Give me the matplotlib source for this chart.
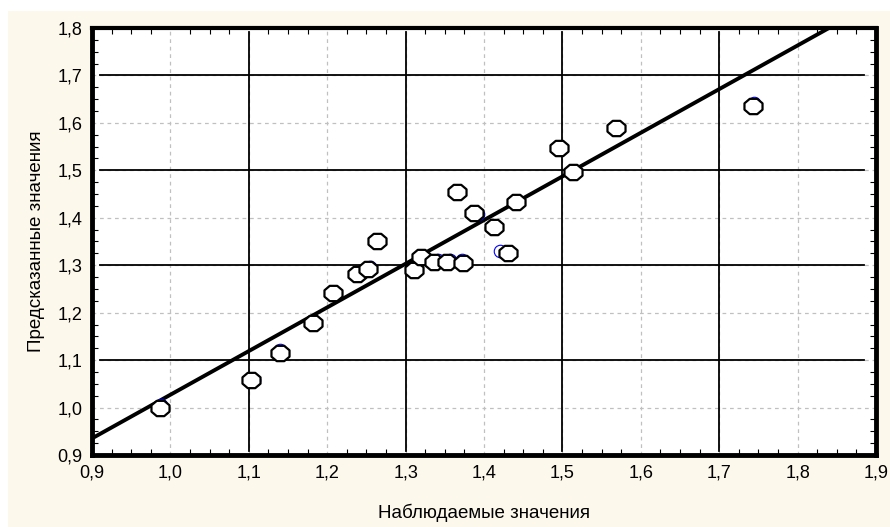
import numpy as np
import matplotlib.pyplot as plt
from matplotlib.patches import Rectangle
from matplotlib.path import Path
from matplotlib.ticker import MultipleLocator, FuncFormatter

plt.rcParams['font.family'] = ['Liberation Sans', 'DejaVu Sans']

# observed vs predicted (white octagons)
obs = [0.987, 1.103, 1.140, 1.182, 1.208, 1.238, 1.252, 1.263, 1.311, 1.320,
       1.336, 1.353, 1.373, 1.365, 1.387, 1.413, 1.430, 1.441, 1.496, 1.513,
       1.568, 1.743]
pred = [1.000, 1.058, 1.115, 1.178, 1.242, 1.282, 1.292, 1.352, 1.290, 1.318,
        1.306, 1.306, 1.304, 1.455, 1.411, 1.381, 1.326, 1.434, 1.548, 1.497,
        1.590, 1.636]

# blue marks peeking out behind some points
blue_x = [0.988, 1.107, 1.140, 1.254, 1.341, 1.357, 1.372, 1.392, 1.421, 1.744]
blue_y = [1.006, 1.058, 1.121, 1.297, 1.312, 1.312, 1.312, 1.408, 1.331, 1.641]

# regression line ends
line_x = [0.9, 1.84]
line_y = [0.935, 1.80]

# hand-drawn black guide lines
vlines = [1.1, 1.3, 1.5, 1.7]
hlines = [1.1, 1.3, 1.5, 1.7]

# slightly wide octagon marker
ang = np.deg2rad(22.5 + 45 * np.arange(8))
verts = np.column_stack([1.18 * np.cos(ang), np.sin(ang)])
octo = Path(np.vstack([verts, verts[:1]]), closed=True)

fig = plt.figure(figsize=(8.9, 5.27), dpi=100)
fig.patch.set_facecolor('white')
fig.patches.append(Rectangle((8 / 890, 0), 1, (527 - 11) / 527, transform=fig.transFigure,
                             facecolor='#fdf8ec', edgecolor='none', zorder=-10))

ax = fig.add_axes([92 / 890, (527 - 455) / 527, (876 - 92) / 890, (455 - 28) / 527])
ax.set_zorder(1)
ax.set_facecolor('white')
ax.set_xlim(0.9, 1.9)
ax.set_ylim(0.9, 1.8)

ax.xaxis.set_major_locator(MultipleLocator(0.1))
ax.yaxis.set_major_locator(MultipleLocator(0.1))
ax.xaxis.set_minor_locator(MultipleLocator(0.025))
ax.yaxis.set_minor_locator(MultipleLocator(0.025))
fmt = FuncFormatter(lambda v, p: f'{v:.1f}'.replace('.', ','))
ax.xaxis.set_major_formatter(fmt)
ax.yaxis.set_major_formatter(fmt)
ax.tick_params(which='both', direction='in', top=True, right=True, labelsize=13, colors='black')
ax.tick_params(which='major', length=0, pad=7)
ax.tick_params(which='minor', length=4, width=0.8)

ax.grid(True, which='major', color='#c0c0c0', linestyle=(0, (3, 3)), linewidth=0.9)
for s in ax.spines.values():
    s.set_linewidth(3.5)
ax.spines['top'].set_linewidth(3)

for v in vlines:
    ax.axvline(v, ymin=0.01, ymax=0.99, color='black', linewidth=1.3, zorder=2)
for h in hlines:
    ax.axhline(h, xmin=0.01, xmax=0.985, color='black', linewidth=1.3, zorder=2)

ax.plot(line_x, line_y, color='black', linewidth=2.8, zorder=3)
ax.plot(blue_x, blue_y, linestyle='none', marker='o', ms=9, mfc='none', mec='blue',
        mew=0.8, zorder=3.5)
ax.plot(obs, pred, linestyle='none', marker=octo, ms=13, mfc='white', mec='black',
        mew=1.6, zorder=4)

ax.set_xlabel('Наблюдаемые значения', fontsize=13.5, labelpad=16)
ax.set_ylabel('Предсказанные значения', fontsize=13.5, labelpad=9)

fig.savefig('out.png', dpi=100, facecolor=fig.get_facecolor())
